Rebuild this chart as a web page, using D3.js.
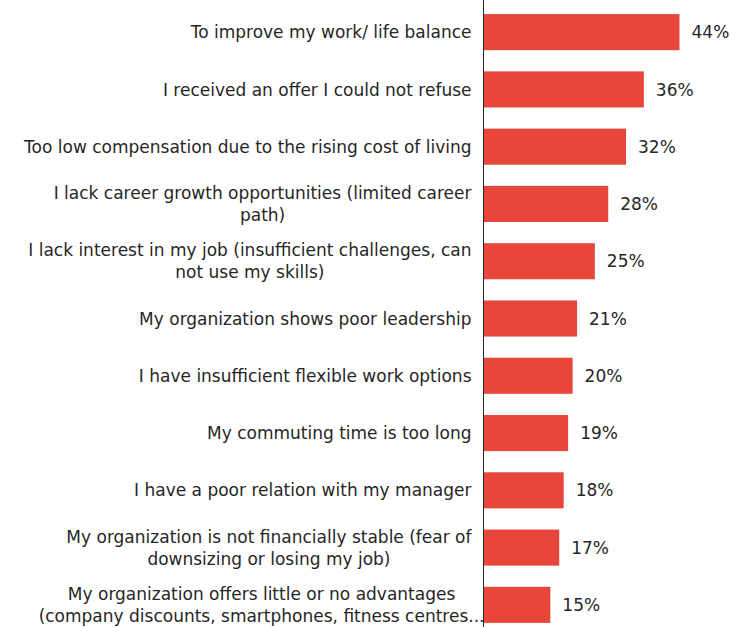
<!DOCTYPE html>
<html>
<head>
<meta charset="utf-8">
<script src="https://cdn.jsdelivr.net/npm/d3@7"></script>
<style>
  html, body { margin: 0; padding: 0; background: #fff; }
  svg { display: block; }
  text { font-family: "DejaVu Sans", sans-serif; fill: #262626; }
</style>
</head>
<body>
<svg id="chart" width="746" height="627"></svg>
<script>
// Reasons for leaving, share of respondents (%)
const reasons = [
  "To improve my work/ life balance",
  "I received an offer I could not refuse",
  "Too low compensation due to the rising cost of living",
  "I lack career growth opportunities (limited career\npath)",
  "I lack interest in my job (insufficient challenges, can\nnot use my skills)",
  "My organization shows poor leadership",
  "I have insufficient flexible work options",
  "My commuting time is too long",
  "I have a poor relation with my manager",
  "My organization is not financially stable (fear of\ndownsizing or losing my job)",
  "My organization offers little or no advantages\n(company discounts, smartphones, fitness centres..."
];
const shares = [44, 36, 32, 28, 25, 21, 20, 19, 18, 17, 15];

const width = 746, height = 627;
const axisX = 483.5;

const svg = d3.select("#chart");

const x = d3.scaleLinear().domain([0, 44]).range([axisX, 679.5]);
const y = d3.scaleBand()
  .domain(reasons)
  .range([3.5, 633.5])
  .paddingInner(0.37)
  .paddingOuter(0.185);

// bars
svg.append("g").selectAll("rect")
  .data(reasons)
  .join("rect")
  .attr("x", x(0))
  .attr("y", d => y(d))
  .attr("width", (d, i) => x(shares[i]) - x(0))
  .attr("height", y.bandwidth())
  .attr("fill", "#E8463A");

// value labels
svg.append("g").selectAll("text")
  .data(reasons)
  .join("text")
  .attr("x", (d, i) => x(shares[i]) + 12)
  .attr("y", d => y(d) + y.bandwidth() / 2)
  .attr("dy", "0.36em")
  .style("font-size", "17px")
  .text((d, i) => shares[i] + "%");

// category labels (multi-line, centred block, right-aligned to the axis)
const lineH = 22;
const labelG = svg.append("g");
reasons.forEach(r => {
  const lines = r.split("\n");
  const cy = y(r) + y.bandwidth() / 2;
  const t = labelG.append("text")
    .style("font-size", "17px");
  lines.forEach((ln, k) => {
    t.append("tspan")
      .attr("y", cy + (k - (lines.length - 1) / 2) * lineH)
      .attr("dy", "0.36em")
      .text(ln);
  });
  // centre lines over the widest one, whose right edge sits near the axis
  const spans = t.selectAll("tspan").nodes();
  const widths = spans.map(s => s.getComputedTextLength());
  const maxW = d3.max(widths);
  const right = r.endsWith("...") ? axisX + 1 : axisX - 12;
  const centre = right - maxW / 2;
  spans.forEach(s => d3.select(s).attr("x", centre).attr("text-anchor", "middle"));
});

// axis line
svg.append("line")
  .attr("x1", axisX).attr("x2", axisX)
  .attr("y1", 0).attr("y2", height)
  .attr("stroke", "#262626")
  .attr("stroke-width", 1);
</script>
</body>
</html>
